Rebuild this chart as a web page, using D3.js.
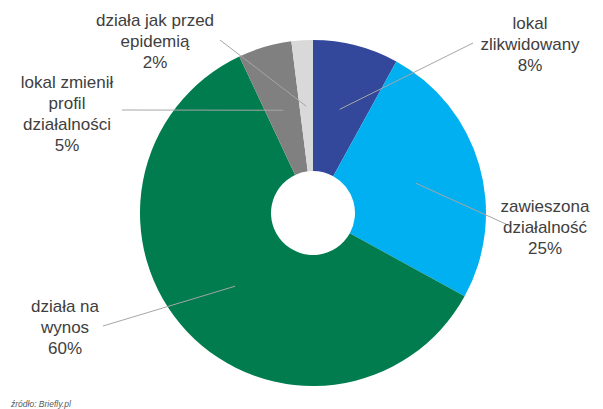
<!DOCTYPE html>
<html>
<head>
<meta charset="utf-8">
<script src="https://cdn.jsdelivr.net/npm/d3@7"></script>
<style>
  html, body { margin: 0; padding: 0; background: #fff; }
  svg { display: block; }
  text { font-family: "Liberation Sans", Arial, sans-serif; }
</style>
</head>
<body>
<svg id="chart" width="603" height="409"></svg>
<script>
// Status of restaurant premises during the epidemic (share of responses)
const categories = [
  ["lokal", "zlikwidowany"],
  ["zawieszona", "działalność"],
  ["działa na", "wynos"],
  ["lokal zmienił", "profil", "działalności"],
  ["działa jak przed", "epidemią"]
];
const shares = [8, 25, 60, 5, 2];
const sliceColors = ["#33489a", "#00b0f0", "#007c4f", "#808080", "#d9d9d9"];
const sourceNote = "źródło: Briefly.pl";

// Label anchors (text centre x, first line y) and leader line start
const labelLayout = [
  { x: 530, y: 29, lx: 473, ly: 43 },
  { x: 545, y: 212, lx: 508, ly: 225 },
  { x: 65, y: 312, lx: 103, ly: 326 },
  { x: 67, y: 88, lx: 122, ly: 110 },
  { x: 155, y: 26, lx: 220, ly: 40 }
];

const svg = d3.select("#chart");
const cx = 313, cy = 213, outerR = 173, innerR = 42;
const lineH = 21;

const rows = shares.map((v, i) => ({ value: v, name: categories[i], color: sliceColors[i], pos: labelLayout[i] }));

const pie = d3.pie().value(d => d.value).sort(null);
const arc = d3.arc().innerRadius(innerR).outerRadius(outerR);
const leaderArc = d3.arc().innerRadius(107).outerRadius(107);

const g = svg.append("g").attr("transform", `translate(${cx},${cy})`);
const arcs = pie(rows);

g.selectAll("path.slice")
  .data(arcs)
  .join("path")
  .attr("class", "slice")
  .attr("d", arc)
  .attr("fill", d => d.data.color);

// Leader lines from label to slice interior
svg.selectAll("line.leader")
  .data(arcs)
  .join("line")
  .attr("class", "leader")
  .attr("x1", d => d.data.pos.lx)
  .attr("y1", d => d.data.pos.ly)
  .attr("x2", d => cx + leaderArc.centroid(d)[0])
  .attr("y2", d => cy + leaderArc.centroid(d)[1])
  .attr("stroke", "#a6a6a6")
  .attr("stroke-width", 1);

// Multi-line category labels with percentages
const labels = svg.selectAll("text.label")
  .data(arcs)
  .join("text")
  .attr("class", "label")
  .attr("text-anchor", "middle")
  .attr("font-size", 17)
  .attr("fill", "#404040");

labels.each(function(d) {
  const t = d3.select(this);
  const lines = d.data.name.concat([d.data.value + "%"]);
  lines.forEach((s, k) => {
    t.append("tspan")
      .attr("x", d.data.pos.x)
      .attr("y", d.data.pos.y + k * lineH)
      .text(s);
  });
});

svg.append("text")
  .attr("x", 11)
  .attr("y", 407)
  .attr("font-size", 8.5)
  .attr("font-style", "italic")
  .attr("fill", "#595959")
  .text(sourceNote);
</script>
</body>
</html>
